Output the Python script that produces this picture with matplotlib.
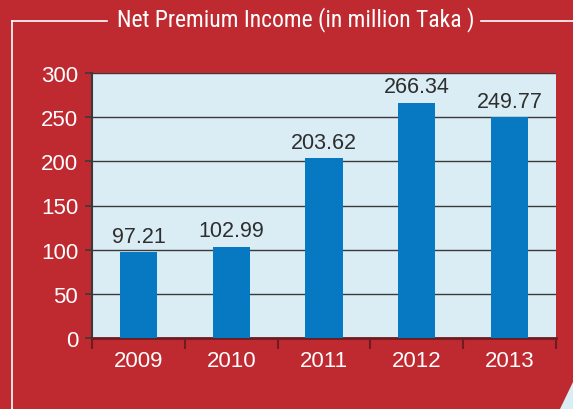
import numpy as np
import matplotlib.pyplot as plt
from matplotlib.lines import Line2D
from matplotlib.patches import Polygon

# Data
years = ['2009', '2010', '2011', '2012', '2013']
premium = [97.21, 102.99, 203.62, 266.34, 249.77]
yticks = [0, 50, 100, 150, 200, 250, 300]

red = '#BF2A31'
plot_bg = '#DAEDF4'
bar_col = '#0779C2'

plt.rcParams['font.family'] = ['Liberation Sans', 'DejaVu Sans']

fig = plt.figure(figsize=(5.73, 4.10), dpi=100)
fig.patch.set_facecolor(red)

ax = fig.add_axes([92 / 573, 71 / 410, 464 / 573, 265 / 410])
ax.set_facecolor(plot_bg)

x = np.arange(len(years))
ax.bar(x, premium, width=0.4, color=bar_col, zorder=3)
for xi, v in zip(x, premium):
    ax.annotate(f'{v:.2f}', (xi, v), xytext=(0, 4), textcoords='offset points',
                ha='center', va='bottom', fontsize=15.5, color='#2e2e2e',
                zorder=4)

ax.set_xlim(-0.5, 4.5)
ax.set_ylim(0, 300)
ax.set_yticks(yticks)
ax.set_yticklabels([str(t) for t in yticks])
ax.set_xticks(x)
ax.set_xticklabels(years)
ax.set_xticks(np.arange(-0.5, 5, 1), minor=True)

ax.yaxis.grid(True, color='#3a3a3a', linewidth=1.0, zorder=1)
ax.set_axisbelow(True)

ax.tick_params(axis='y', colors='white', labelsize=16, length=5,
               width=1.2, pad=5)
ax.tick_params(axis='y', which='major', color='#3a3a3a')
ax.tick_params(axis='x', which='major', length=0, labelsize=16,
               labelcolor='white', pad=9)
ax.tick_params(axis='x', which='minor', length=8, width=1.5,
               color='#6e1c20')

for s in ['top', 'right']:
    ax.spines[s].set_visible(False)
ax.spines['left'].set_color('#3a3a3a')
ax.spines['left'].set_linewidth(1.5)
ax.spines['bottom'].set_color('#6e1c20')
ax.spines['bottom'].set_linewidth(2)

# white frame and title
W, H = 573, 410
fig.add_artist(Line2D([12 / W, 12 / W], [0, 1 - 22 / H], color='white',
                      linewidth=1.2, transform=fig.transFigure))
fig.add_artist(Line2D([12 / W, 107 / W], [1 - 22 / H, 1 - 22 / H],
                      color='white', linewidth=1.2, transform=fig.transFigure))
fig.add_artist(Line2D([481 / W, 1], [1 - 22 / H, 1 - 22 / H],
                      color='white', linewidth=1.2, transform=fig.transFigure))
fig.text(296 / W, 1 - 20 / H, 'Net Premium Income (in million Taka )',
         ha='center', va='center', color='white', fontsize=17,
         family=['Liberation Sans Narrow', 'Roboto Condensed', 'Liberation Sans'])

# light corner at bottom right
fig.add_artist(Polygon([[560 / W, 0], [1, 27 / H], [1, 0]], closed=True,
                       facecolor=plot_bg, edgecolor='none',
                       transform=fig.transFigure))

fig.savefig('out.png', dpi=100, facecolor=red)
